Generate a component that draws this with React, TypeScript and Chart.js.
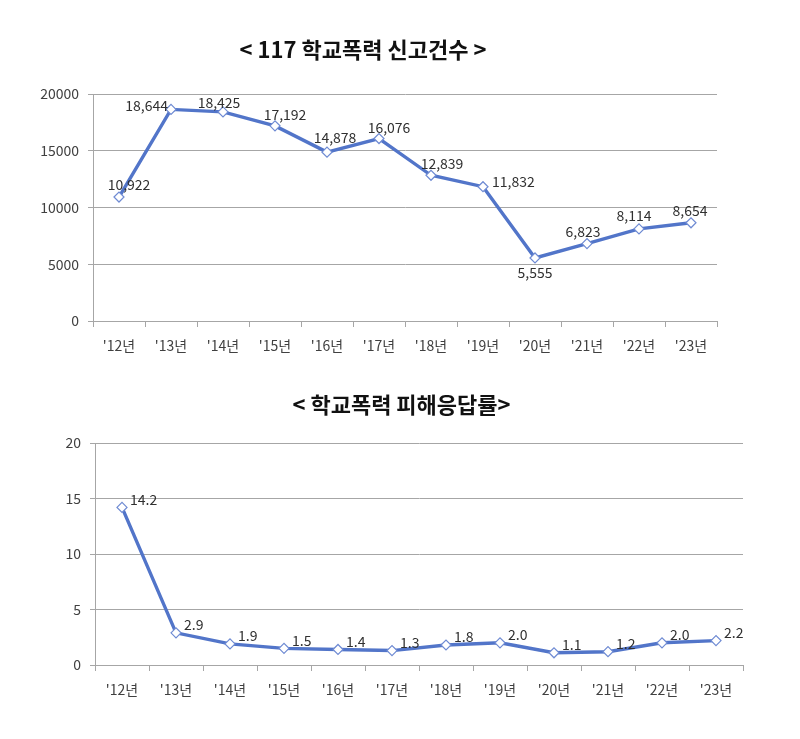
import React, { useEffect, useRef } from 'react';
import { Chart, registerables } from 'chart.js';
Chart.register(...registerables);

const years = ["'12년", "'13년", "'14년", "'15년", "'16년", "'17년", "'18년", "'19년", "'20년", "'21년", "'22년", "'23년"];
const reports = [10922, 18644, 18425, 17192, 14878, 16076, 12839, 11832, 5555, 6823, 8114, 8654];
const rates = [14.2, 2.9, 1.9, 1.5, 1.4, 1.3, 1.8, 2.0, 1.1, 1.2, 2.0, 2.2];
const reportTicks = [0, 5000, 10000, 15000, 20000];
const rateTicks = [0, 5, 10, 15, 20];
const title1 = '< 117 학교폭력 신고건수 >';
const title2 = '< 학교폭력 피해응답률>';

// label placement styles (dx, dy, align)
const reportLabelPos: [number, number, CanvasTextAlign][] = [
  [10, -12, 'center'], [-3, -4, 'right'], [-4, -9, 'center'], [10, -11, 'center'],
  [8, -14, 'center'], [10, -11, 'center'], [11, -12, 'center'], [9, -5, 'left'],
  [0, 15, 'center'], [-4, -12, 'center'], [-5, -13, 'center'], [-1, -12, 'center'],
];
const rateLabelPos: [number, number, CanvasTextAlign][] = rates.map(() => [8, -8, 'left']);

const FONT = '"Noto Sans CJK KR", "Noto Sans", sans-serif';
const LINE = '#5275C9';
const GRID = '#a6a6a6';
const TXT = '#404040';

function makeLabelPlugin(pos: [number, number, CanvasTextAlign][], fmt: (v: number) => string) {
  return {
    id: 'pointLabels',
    afterDatasetsDraw(chart: any) {
      const { ctx } = chart;
      const meta = chart.getDatasetMeta(0);
      const data = chart.data.datasets[0].data as number[];
      ctx.save();
      ctx.font = `14px ${FONT}`;
      ctx.fillStyle = '#303030';
      ctx.textBaseline = 'middle';
      meta.data.forEach((pt: any, i: number) => {
        const [dx, dy, align] = pos[i];
        ctx.textAlign = align;
        ctx.fillText(fmt(data[i]), pt.x + dx, pt.y + dy);
      });
      ctx.restore();
    },
  };
}

function buildConfig(opts: {
  labels: string[]; data: number[]; ticks: number[]; title: string;
  padTop: number; padTitleBottom: number; padLeft: number; padRight: number; padBottom: number;
  yWidth: number; xHeight: number; plugin: any;
}) {
  const max = opts.ticks[opts.ticks.length - 1];
  const step = opts.ticks[1] - opts.ticks[0];
  return {
    type: 'line' as const,
    data: {
      labels: opts.labels,
      datasets: [{
        data: opts.data,
        borderColor: LINE,
        borderWidth: 3.4,
        pointStyle: 'rectRot',
        pointRadius: 5,
        pointBackgroundColor: '#ffffff',
        pointBorderColor: '#6f8bd3',
        pointBorderWidth: 1.2,
        tension: 0,
      }],
    },
    options: {
      responsive: false,
      animation: false as const,
      layout: { padding: { left: opts.padLeft, right: opts.padRight, top: 0, bottom: opts.padBottom } },
      plugins: {
        legend: { display: false },
        tooltip: { enabled: false },
        title: {
          display: true,
          text: opts.title,
          color: '#111111',
          font: { family: FONT, size: 22, weight: 'bold' as const, lineHeight: 1.2 },
          padding: { top: opts.padTop, bottom: opts.padTitleBottom },
        },
      },
      scales: {
        x: {
          type: 'category' as const,
          offset: true,
          grid: { display: true, drawOnChartArea: false, drawTicks: true, tickLength: 6, color: GRID, offset: true },
          border: { display: true, color: GRID, width: 1 },
          ticks: { color: TXT, font: { family: FONT, size: 14 }, padding: 10, maxRotation: 0, autoSkip: false },
          afterFit: (s: any) => { s.height = opts.xHeight; },
        },
        y: {
          min: 0,
          max,
          ticks: {
            stepSize: step,
            color: TXT,
            font: { family: FONT, size: 14 },
            padding: 9,
            callback: (v: any) => String(v),
          },
          grid: { color: GRID, lineWidth: 1, tickLength: 5, drawTicks: true },
          border: { display: true, color: GRID, width: 1 },
          afterFit: (s: any) => { s.width = opts.yWidth; },
        },
      },
    },
    plugins: [opts.plugin],
  };
}

export default function App() {
  const c1 = useRef<HTMLCanvasElement>(null);
  const c2 = useRef<HTMLCanvasElement>(null);
  useEffect(() => {
    const ch1 = new Chart(c1.current!, buildConfig({
      labels: years, data: reports, ticks: reportTicks, title: title1,
      padTop: 36.8, padTitleBottom: 30.8, padLeft: 9, padRight: 83, padBottom: 19,
      yWidth: 84, xHeight: 40,
      plugin: makeLabelPlugin(reportLabelPos, (v) => v.toLocaleString('en-US')),
    }) as any);
    const ch2 = new Chart(c2.current!, buildConfig({
      labels: years, data: rates, ticks: rateTicks, title: title2,
      padTop: 11.8, padTitleBottom: 24.8, padLeft: 60, padRight: 57, padBottom: 34,
      yWidth: 35, xHeight: 40,
      plugin: makeLabelPlugin(rateLabelPos, (v) => v.toFixed(1)),
    }) as any);
    return () => { ch1.destroy(); ch2.destroy(); };
  }, []);
  return (
    <div style={{ position: 'absolute', left: 0, top: 0, width: 800, height: 739, background: '#fff' }}>
      <canvas ref={c1} width={800} height={380} style={{ position: 'absolute', left: 0, top: 0 }} />
      <canvas ref={c2} width={800} height={359} style={{ position: 'absolute', left: 0, top: 380 }} />
    </div>
  );
}
